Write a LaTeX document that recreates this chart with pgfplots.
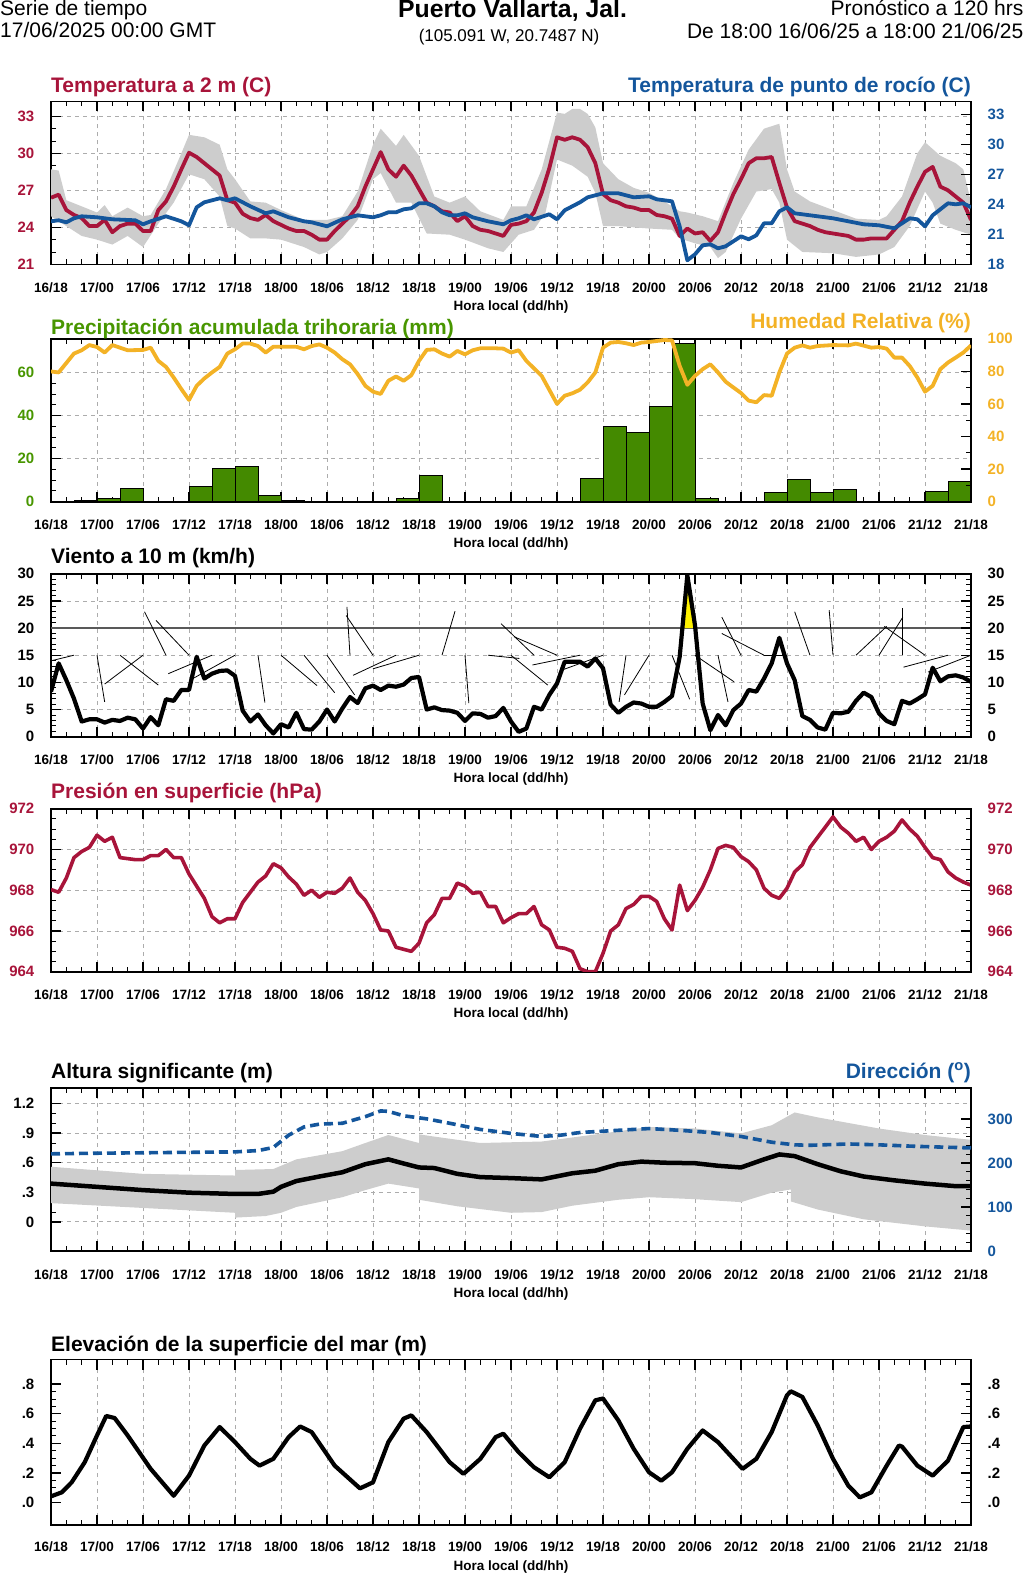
\documentclass[border=0pt]{standalone}
\usepackage{fontspec}
\setmainfont{Liberation Sans}
\usepackage{pgfplots}
\pgfplotsset{compat=1.18}
\usepgfplotslibrary{fillbetween}

\definecolor{tred}{RGB}{168,20,58}
\definecolor{tblue}{RGB}{20,86,156}
\definecolor{horange}{RGB}{243,178,38}
\definecolor{pgreen}{RGB}{68,138,0}
\definecolor{tgreen}{RGB}{72,150,0}
\definecolor{band}{RGB}{205,205,205}

\tikzset{ptitle/.style={inner sep=0pt, font=\bfseries\fontsize{21}{21}\selectfont}}

\pgfplotsset{
  ncl/.style={
    scale only axis, width=920pt, height=163pt, anchor=south west,
    xmin=0, xmax=120,
    xtick={0,6,...,120},
    xticklabels={16/18,17/00,17/06,17/12,17/18,18/00,18/06,18/12,18/18,19/00,19/06,19/12,19/18,20/00,20/06,20/12,20/18,21/00,21/06,21/12,21/18},
    minor x tick num=2,
    tick align=inside,
    major tick length=10pt, minor tick length=5pt,
    major tick style={line width=1.4pt, black},
    minor tick style={line width=0.9pt, black},
    axis line style={line width=1.6pt},
    xmajorgrids, ymajorgrids,
    major grid style={gray!65, line width=0.7pt, dash pattern=on 4pt off 4pt},
    ytick pos=left, xtick pos=both,
    /pgf/number format/assume math mode=true,
    yticklabel style={font=\bfseries\fontsize{15}{15}\selectfont, inner sep=0pt, anchor=east, xshift=-16.5pt},
    xticklabel style={font=\bfseries\fontsize{13.5}{13.5}\selectfont, inner sep=0pt, anchor=base, yshift=-28pt},
    xlabel={Hora local (dd/hh)},
    xlabel style={font=\bfseries\fontsize{13.5}{13.5}\selectfont, inner sep=0pt, at={(rel axis cs:0.5,0)}, anchor=base, yshift=-46pt},
    clip mode=individual,
  },
  nclr/.style={
    scale only axis, width=920pt, height=163pt, anchor=south west,
    xmin=0, xmax=120,
    axis x line=none, axis y line*=right,
    tick align=inside,
    major tick length=10pt, minor tick length=5pt,
    major tick style={line width=1.4pt, black},
    minor tick style={line width=0.9pt, black},
    axis line style={line width=1.6pt},
    /pgf/number format/assume math mode=true,
    yticklabel style={font=\bfseries\fontsize{15}{15}\selectfont, inner sep=0pt, anchor=west, xshift=16.5pt},
    clip mode=individual,
  },
}

\begin{document}
\begin{tikzpicture}

% ---------- cabecera
\node[anchor=base west, inner sep=0pt, font=\fontsize{21}{21}\selectfont] at (0pt,-15.5pt) {Serie de tiempo};
\node[anchor=base west, inner sep=0pt, font=\fontsize{21}{21}\selectfont] at (0pt,-38pt) {17/06/2025 00:00 GMT};
\node[anchor=base, inner sep=0pt, font=\bfseries\fontsize{24.8}{24.8}\selectfont] at (512.5pt,-18pt) {Puerto Vallarta, Jal.};
\node[anchor=base, inner sep=0pt, font=\fontsize{17}{17}\selectfont] at (509pt,-42pt) {(105.091 W, 20.7487 N)};
\node[anchor=base east, inner sep=0pt, font=\fontsize{21}{21}\selectfont] at (1023.5pt,-16pt) {Pronóstico a 120 hrs};
\node[anchor=base east, inner sep=0pt, font=\fontsize{21}{21}\selectfont] at (1023.5pt,-39pt) {De 18:00 16/06/25 a 18:00 21/06/25};

% ---------- 1: temperatura / punto de rocio
\begin{axis}[ncl, at={(51pt,-264.3pt)}, ymin=21, ymax=34.22, ytick={21,24,...,33}, minor y tick num=2,
  yticklabel style={text=tred}]
\addplot[name path=tu, draw=none] coordinates {
(0,28.7)(1,28.6)(2,26.2)(4,25.7)(6,25.2)(7,25.8)(8,24.9)(10,25.6)(12,24.9)(13,25.0)(15,27.1)(17,30.0)(18,31.5)(20,31.3)(22,30.7)(23,28.7)(24,27.9)(26,26.1)(28,26.0)(30,25.4)(33,24.6)(36,24.6)(38,24.9)(40,26.9)(42,30.7)(43,32.0)(45,30.6)(46,31.5)(48,29.8)(50,26.5)(52,26.0)(54,26.5)(56,25.3)(59,24.6)(60,25.7)(62,25.7)(64,28.7)(66,33.3)(67,33.2)(68,33.6)(69,33.6)(70,33.2)(71,32.1)(72,29.2)(74,27.9)(76,27.2)(78,26.8)(80,26.1)(82,25.3)(83,25.2)(85,24.9)(87,24.5)(89,27.6)(91,30.3)(93,32.0)(95,32.4)(96,28.7)(97,26.9)(99,26.1)(102,25.4)(105,24.7)(108,24.6)(109,24.9)(111,26.5)(113,30.0)(114,30.9)(116,29.8)(118,29.2)(119,28.7)(120,26.0)};
\addplot[name path=tl, draw=none] coordinates {
(0,24.9)(2,24.1)(4,23.3)(6,23.0)(8,22.6)(10,23.3)(12,22.4)(14,24.3)(16,26.0)(18,28.3)(20,27.9)(22,26.5)(23,24.1)(24,23.9)(26,23.1)(28,23.1)(30,23.0)(33,22.4)(35,21.8)(36,22.0)(38,23.1)(40,24.6)(42,27.9)(43,28.4)(45,26.0)(47,26.0)(49,23.5)(52,23.4)(54,23.0)(57,22.3)(59,22.0)(61,23.4)(63,23.8)(64.5,25.2)(66,29.5)(68,29.0)(70,28.1)(71,26.8)(72,24.1)(74,24.1)(78,23.9)(81,23.8)(82,23.1)(84,22.7)(86,22.4)(87,21.5)(88,22.0)(90,24.7)(92,26.9)(94,27.1)(95,26.0)(96,23.0)(98,22.0)(102,21.9)(105,21.6)(108,21.8)(110,22.4)(112,24.1)(114,26.9)(115,26.0)(116,24.3)(118,23.8)(120,23.4)};
\addplot[band, draw=none] fill between[of=tu and tl];
\addplot[tred, line width=3.8pt, line join=round] coordinates {
(0,26.4)(1,26.65)(2,25.4)(3,25.0)(4,24.75)(5,24.1)(6,24.1)(7,24.6)(8,23.6)(9,24.1)(10,24.3)(11,24.3)(12,23.7)(13,23.7)(14,25.4)(15,26.1)(16,27.3)(17,28.7)(18,30.05)(19,29.7)(20,29.2)(21,28.7)(22,28.2)(23,26.2)(24,26.0)(25,25.1)(26,24.75)(27,24.6)(28,25.0)(29,24.5)(30,24.2)(31,23.9)(32,23.7)(33,23.7)(34,23.4)(35,23.0)(36,23.0)(37,23.7)(38,24.3)(39,24.9)(40,25.7)(41,27.3)(42,28.7)(43,30.1)(44,28.7)(45,28.1)(46,29.0)(47,28.2)(48,27.1)(49,26.0)(50,25.7)(51,25.3)(52,25.2)(53,24.5)(54,24.9)(55,24.1)(56,23.8)(57,23.7)(58,23.5)(59,23.3)(60,24.2)(61,24.3)(62,24.5)(63,25.2)(64,26.8)(65,28.8)(66,31.3)(67,31.1)(68,31.3)(69,31.1)(70,30.5)(71,29.2)(72,26.7)(73,26.2)(74,26.0)(75,25.7)(76,25.6)(77,25.4)(78,25.4)(79,25.0)(80,24.9)(81,24.7)(82,23.3)(83,23.9)(84,23.5)(85,23.6)(86,22.9)(87,23.6)(88,25.2)(89,26.7)(90,27.9)(91,29.2)(92,29.6)(93,29.6)(94,29.7)(95,27.6)(96,25.6)(97,24.5)(98,24.3)(99,24.1)(100,23.8)(101,23.6)(102,23.5)(103,23.4)(104,23.3)(105,23.0)(106,23.0)(107,23.1)(108,23.1)(109,23.1)(110,23.8)(111,24.5)(112,26.0)(113,27.3)(114,28.5)(115,28.9)(116,27.3)(117,27.0)(118,26.5)(119,26.0)(120,24.6)};
\node[ptitle, anchor=base west, text=tred, yshift=9pt] at (rel axis cs:0,1) {Temperatura a 2 m (C)};
\node[ptitle, anchor=base east, text=tblue, yshift=9pt] at (rel axis cs:1,1) {Temperatura de punto de rocío (C)};
\end{axis}
\begin{axis}[nclr, at={(51pt,-264.3pt)}, ymin=18, ymax=34.3, ytick={18,21,...,33}, minor y tick num=2,
  yticklabel style={text=tblue}]
\addplot[tblue, line width=3.8pt, line join=round] coordinates {
(0,22.3)(1,22.4)(2,22.2)(3,22.6)(4,22.8)(6,22.7)(8,22.5)(11,22.4)(12,22.0)(13,22.3)(15,22.8)(17,22.3)(18,21.9)(19,23.7)(20,24.2)(22,24.6)(23,24.4)(24,24.6)(26,23.8)(28,23.1)(29,23.3)(31,22.7)(33,22.3)(34,22.2)(36,21.8)(38,22.5)(40,22.9)(42,22.7)(43,22.9)(44,23.2)(45,23.2)(46,23.5)(47,23.6)(48,24.1)(49,24.1)(50,23.8)(51,23.2)(52,22.9)(53,22.9)(54,23.1)(55,22.7)(57,22.3)(59,22.0)(60,22.4)(61,22.6)(62,22.9)(63,22.5)(65,23.0)(66,22.5)(67,23.4)(69,24.2)(70,24.7)(72,25.1)(74,25.1)(76,24.7)(78,24.8)(79,24.5)(81,24.3)(82,21.8)(83,18.4)(84,19.0)(85,19.9)(86,20.0)(87,19.6)(88,19.8)(90,20.8)(91,20.5)(92,20.9)(93,22.1)(94,22.1)(95,23.3)(96,23.7)(97,23.1)(99,22.9)(102,22.6)(104,22.3)(106,22.0)(108,21.9)(110,21.6)(111,22.1)(112,22.6)(113,22.5)(114,21.8)(115,22.9)(117,24.1)(118,24.0)(119,24.1)(120,23.7)};
\end{axis}

% ---------- 2: precipitacion / humedad
\begin{axis}[ncl, at={(51pt,-501.7pt)}, ymin=0, ymax=75.7, ytick={0,20,40,60}, minor y tick num=3,
  yticklabel style={text=tgreen}]
\addplot[ybar interval, fill=pgreen, draw=black, line width=0.8pt] coordinates {
(0,0)(3,0.5)(6,1.5)(9,6.3)(12,0)(15,0)(18,7.2)(21,15.5)(24,16.3)(27,2.9)(30,0.6)(33,0)(36,0)(39,0)(42,0)(45,1.5)(48,12.2)(51,0)(54,0)(57,0)(60,0)(63,0)(66,0)(69,10.8)(72,35.1)(75,32.0)(78,44.2)(81,73.5)(84,1.5)(87,0)(90,0)(93,4.3)(96,10.5)(99,4.2)(102,5.7)(105,0)(108,0)(111,0)(114,4.6)(117,9.5)(120,0)};
\node[ptitle, anchor=base west, text=tgreen, yshift=4.5pt] at (rel axis cs:0,1) {Precipitación acumulada trihoraria (mm)};
\node[ptitle, anchor=base east, text=horange, yshift=10pt] at (rel axis cs:1,1) {Humedad Relativa (\%)};
\end{axis}
\begin{axis}[nclr, at={(51pt,-501.7pt)}, ymin=0, ymax=100, ytick={0,20,...,100}, minor y tick num=1,
  yticklabel style={text=horange}]
\addplot[horange, line width=3.8pt, line join=round] coordinates {
(0,79.9)(1,79.3)(3,90.9)(4,92.9)(5,96.1)(6,94.9)(7,91.5)(8,96.1)(10,92.9)(12,93.1)(13,94.5)(14,86.4)(15,82.7)(16,76.2)(17,69.1)(18,62.4)(19,71.1)(20,75.6)(21,79.3)(22,82.7)(23,90.9)(24,93.5)(25,97.0)(26,97.0)(27,95.5)(28,91.5)(29,95.1)(31,95.1)(32,95.1)(33,93.5)(34,95.5)(35,96.5)(36,94.5)(37,91.5)(38,87.4)(39,84.3)(40,78.3)(41,71.1)(42,67.5)(43,66.1)(44,74.2)(45,76.8)(46,74.2)(47,77.6)(48,86.4)(49,93.1)(50,93.5)(51,90.9)(52,89.0)(53,92.5)(54,90.4)(55,92.9)(56,94.1)(58,94.1)(59,93.9)(60,91.5)(61,92.9)(62,86.4)(64,77.2)(66,60.0)(67,65.0)(68,66.5)(69,68.7)(70,73.2)(71,79.3)(72,94.5)(73,97.6)(74,98.0)(75,97.2)(76,96.1)(77,97.6)(78,98.0)(79,98.6)(80,99.2)(81,99.0)(82,83.3)(83,71.7)(84,77.2)(85,81.3)(86,84.3)(87,79.3)(88,73.6)(89,70.1)(90,66.7)(91,62.0)(92,61.0)(93,65.4)(94,65.0)(95,79.3)(96,90.9)(97,94.5)(98,95.9)(99,94.5)(100,95.5)(102,96.1)(104,95.9)(105,97.0)(107,94.5)(108,94.9)(109,93.9)(110,88.4)(111,88.4)(112,83.3)(113,76.2)(114,67.5)(115,71.1)(116,81.3)(117,85.4)(118,88.4)(119,91.5)(120,95.9)};
\end{axis}

% ---------- 3: viento
\begin{axis}[ncl, at={(51pt,-736.7pt)}, ymin=0, ymax=30, ytick={0,5,...,30}, minor y tick num=4]
\addplot[gray!70!black, line width=1.4pt] coordinates {(0,20)(120,20)};
\addplot[quiver={u=\thisrow{u}, v=\thisrow{v}}, black, line width=0.8pt] table {
x y u v
3 15 -2.9 -1.0
6 15 1.0 -8.6
9 15 5.0 -5.5
12 15 -5.0 -5.3
15 15 -2.8 8.0
18 15 -4.3 6.4
21 15 -5.7 -3.4
24 15 -5.5 -4.3
27 15 0.9 -8.7
30 15 4.7 -5.6
33 15 4.0 -6.9
36 15 3.6 -7.3
39 15 -0.4 8.9
42 15 -3.5 7.3
45 15 -5.6 -3.7
48 15 -6.0 -2.5
51 15 1.7 8.1
54 15 0.5 -8.8
57 15 4.1 -0.6
60 15 4.8 -5.5
63 15 -4.3 5.8
66 15 -5.6 3.4
69 15 -6.2 -1.8
72 15 -5.5 -2.8
75 15 -0.9 -8.6
78 15 -3.2 -7.3
81 15 2.3 -8.1
84 15 5.1 -4.9
87 15 1.3 -8.6
90 15 -2.5 7.0
93 15 -5.5 4.0
96 15 -3.0 0
99 15 -2.0 8.0
102 15 -0.5 8.3
105 15 4.0 5.3
108 15 3.1 7.0
111 15 0 8.6
114 15 -5.3 5.3
117 15 -5.8 -2.2
120 15 -5.6 -3.1
};
\addplot[fill=yellow, draw=none] coordinates {(82.35,20)(83,29.7)(84,20.5)(84.03,20)} -- cycle;
\addplot[black, line width=4.2pt, line join=round] coordinates {
(0,8.3)(1,13.5)(2,10.4)(3,7.0)(4,2.8)(5,3.2)(6,3.2)(7,2.6)(8,3.1)(9,2.9)(10,3.5)(11,3.2)(12,1.5)(13,3.6)(14,2.1)(15,6.9)(16,6.6)(17,8.6)(18,8.6)(19,14.7)(20,10.7)(21,11.6)(22,12.1)(23,12.2)(24,11.2)(25,4.8)(26,2.8)(27,4.1)(28,2.1)(29,0.6)(30,2.3)(31,1.7)(32,4.4)(33,1.4)(34,1.3)(35,2.8)(36,5.0)(37,2.8)(38,5.2)(39,7.3)(40,6.2)(41,8.9)(42,9.4)(43,8.6)(44,9.4)(45,9.2)(46,9.6)(47,10.8)(48,11.0)(49,5.0)(50,5.4)(51,4.9)(52,4.8)(53,4.4)(54,2.9)(55,4.3)(56,4.2)(57,3.5)(58,3.8)(59,5.3)(60,2.8)(61,0.9)(62,1.5)(63,5.5)(64,5.0)(65,7.7)(66,9.8)(67,13.8)(68,13.8)(69,13.8)(70,12.9)(71,14.4)(72,12.6)(73,5.9)(74,4.4)(75,5.5)(76,6.3)(77,6.1)(78,5.5)(79,5.5)(80,6.4)(81,7.5)(82,14.7)(83,29.7)(84,20.5)(85,6.1)(86,1.2)(87,4.0)(88,2.1)(89,4.9)(90,6.1)(91,8.6)(92,8.3)(93,10.7)(94,13.5)(95,18.2)(96,13.5)(97,10.4)(98,3.8)(99,3.1)(100,1.7)(101,1.3)(102,4.4)(103,4.3)(104,4.6)(105,6.6)(106,8.1)(107,7.3)(108,4.3)(109,2.9)(110,2.3)(111,6.6)(112,6.1)(113,6.9)(114,7.8)(115,12.7)(116,10.2)(117,11.1)(118,11.3)(119,10.9)(120,10.1)};
\node[ptitle, anchor=base west, yshift=10pt] at (rel axis cs:0,1) {Viento a 10 m (km/h)};
\end{axis}
\begin{axis}[nclr, at={(51pt,-736.7pt)}, ymin=0, ymax=30, ytick={0,5,...,30}, minor y tick num=4]
\end{axis}

% ---------- 4: presion
\begin{axis}[ncl, at={(51pt,-971.7pt)}, ymin=964, ymax=972, ytick={964,966,...,972}, minor y tick num=3,
  yticklabel style={text=tred}]
\addplot[tred, line width=3.6pt, line join=round] coordinates {
(0,968.03)(1,967.9)(2,968.6)(3,969.6)(4,969.9)(5,970.1)(6,970.7)(7,970.4)(8,970.6)(9,969.6)(10,969.55)(11,969.5)(12,969.5)(13,969.7)(14,969.7)(15,970.0)(16,969.6)(17,969.6)(18,968.8)(19,968.2)(20,967.6)(21,966.7)(22,966.4)(23,966.6)(24,966.6)(25,967.4)(26,967.9)(27,968.4)(28,968.7)(29,969.3)(30,969.1)(31,968.65)(32,968.3)(33,967.75)(34,968.0)(35,967.65)(36,967.9)(37,967.85)(38,968.1)(39,968.6)(40,967.9)(41,967.5)(42,966.85)(43,966.05)(44,966.0)(45,965.2)(46,965.1)(47,965.0)(48,965.4)(49,966.4)(50,966.8)(51,967.6)(52,967.6)(53,968.35)(54,968.2)(55,967.85)(56,967.9)(57,967.2)(58,967.2)(59,966.4)(60,966.65)(61,966.85)(62,966.85)(63,967.2)(64,966.3)(65,966.05)(66,965.2)(67,965.15)(68,965.0)(69,964.15)(70,964.0)(71,964.0)(72,964.9)(73,966.0)(74,966.3)(75,967.1)(76,967.3)(77,967.7)(78,967.7)(79,967.45)(80,966.6)(81,966.05)(82,968.25)(83,967.0)(84,967.5)(85,968.15)(86,969.0)(87,970.05)(88,970.2)(89,970.1)(90,969.65)(91,969.4)(92,969.0)(93,968.1)(94,967.75)(95,967.6)(96,968.1)(97,968.9)(98,969.25)(99,970.1)(100,970.6)(101,971.1)(102,971.6)(103,971.1)(104,970.8)(105,970.4)(106,970.6)(107,970.0)(108,970.4)(109,970.6)(110,970.9)(111,971.45)(112,971.0)(113,970.65)(114,970.1)(115,969.6)(116,969.5)(117,968.9)(118,968.6)(119,968.4)(120,968.25)};
\node[ptitle, anchor=base west, text=tred, yshift=10pt] at (rel axis cs:0,1) {Presión en superficie (hPa)};
\end{axis}
\begin{axis}[nclr, at={(51pt,-971.7pt)}, ymin=964, ymax=972, ytick={964,966,...,972}, minor y tick num=3,
  yticklabel style={text=tred}]
\end{axis}

% ---------- 5: altura significante / direccion
\begin{axis}[ncl, at={(51pt,-1251pt)}, ymin=-0.296, ymax=1.358, ytick={0,0.3,0.6,0.9,1.2}, yticklabels={0,.3,.6,.9,1.2}, minor y tick num=2]
\addplot[name path=hu, draw=none] coordinates {
(0,0.559)(12,0.487)(24,0.47)(24.01,0.526)(29,0.536)(32,0.634)(38,0.717)(41,0.8)(44,0.881)(48,0.8)(48.01,0.888)(50,0.865)(56,0.8)(64,0.815)(72,0.897)(78,0.963)(84,0.947)(90,0.897)(94,0.98)(97,1.11)(100,1.06)(108,0.947)(114,0.881)(120,0.832)};
\addplot[name path=hl, draw=none] coordinates {
(0,0.19)(12,0.141)(24,0.092)(24.01,0.043)(28,0.059)(30,0.092)(32,0.151)(38,0.25)(41,0.322)(44,0.388)(48,0.339)(48.01,0.224)(53,0.158)(60,0.092)(64,0.099)(68,0.164)(74,0.224)(78,0.25)(84,0.23)(90,0.2)(94,0.296)(96.5,0.329)(96.51,0.207)(100,0.125)(106,0.026)(114,-0.046)(120,-0.089)};
\addplot[band, draw=none] fill between[of=hu and hl];
\addplot[black, line width=4.5pt, line join=round] coordinates {
(0,0.388)(6,0.355)(12,0.322)(18,0.296)(24,0.283)(27,0.283)(29,0.306)(30,0.355)(32,0.414)(35,0.46)(38,0.503)(41,0.585)(44,0.634)(46,0.592)(48,0.552)(50,0.546)(53,0.487)(56,0.454)(60,0.444)(64,0.431)(68,0.493)(71,0.519)(74,0.585)(77,0.611)(80,0.60)(84,0.595)(87,0.569)(90,0.552)(93,0.634)(95,0.684)(97,0.667)(100,0.585)(103,0.513)(106,0.46)(110,0.421)(114,0.388)(118,0.362)(120,0.362)};
\node[ptitle, anchor=base west, yshift=10pt] at (rel axis cs:0,1) {Altura significante (m)};
\node[ptitle, anchor=base east, text=tblue, yshift=10pt] at (rel axis cs:1,1) {Dirección (\textsuperscript{o})};
\end{axis}
\begin{axis}[nclr, at={(51pt,-1251pt)}, ymin=0, ymax=370, ytick={0,100,200,300}, minor y tick num=4,
  yticklabel style={text=tblue}]
\addplot[tblue, line width=3.6pt, dash pattern=on 9pt off 5pt] coordinates {
(0,220.6)(6,222)(12,223)(18,224)(24,225)(27,228)(29,235)(31,263)(33,281.6)(35,288)(38,290)(41,305)(43,318)(44,317)(46,307)(49,300)(52,290)(56,276)(60,267)(64,260)(66.5,263)(69,269)(74,274)(78,278)(82,274)(86,269)(90,260)(94,247)(97,241)(99,240)(104,243)(108,241)(113,237.5)(120,234)};
\end{axis}

% ---------- 6: elevacion del mar
\begin{axis}[ncl, at={(51pt,-1525pt)}, height=165.5pt, ymin=-0.153, ymax=0.967, ytick={0,0.2,...,0.8}, yticklabels={.0,.2,.4,.6,.8}, minor y tick num=3, ymajorgrids=false,
  xticklabel style={yshift=2pt}, xlabel style={yshift=1pt}]
\addplot[black, line width=4.2pt, line join=round] coordinates {
(0,0.041)(1.4,0.068)(2.7,0.136)(4.4,0.272)(6,0.453)(7.2,0.585)(8.3,0.571)(10,0.453)(13,0.227)(16,0.045)(18,0.181)(20,0.385)(22,0.51)(24,0.408)(26,0.295)(27.2,0.249)(29,0.295)(31,0.442)(32.5,0.514)(34,0.476)(37,0.249)(40.3,0.095)(42,0.136)(44,0.408)(46,0.567)(47,0.589)(49,0.476)(52,0.272)(53.8,0.193)(56,0.295)(58,0.442)(59,0.465)(61,0.340)(63,0.238)(65,0.17)(67,0.272)(69,0.499)(71,0.691)(72,0.703)(74,0.555)(76,0.363)(78,0.204)(79.6,0.147)(81,0.204)(83,0.363)(85,0.487)(87,0.408)(89,0.295)(90.2,0.227)(92,0.295)(94,0.476)(96,0.725)(96.5,0.752)(98,0.714)(100,0.521)(102,0.295)(104,0.113)(105.5,0.034)(107,0.068)(109,0.249)(110.6,0.385)(111,0.378)(113,0.249)(115,0.181)(117,0.283)(119,0.51)(120,0.514)};
\node[ptitle, anchor=base west, yshift=8pt] at (rel axis cs:0,1) {Elevación de la superficie del mar (m)};
\end{axis}
\begin{axis}[nclr, at={(51pt,-1525pt)}, height=165.5pt, ymin=-0.153, ymax=0.967, ytick={0,0.2,...,0.8}, yticklabels={.0,.2,.4,.6,.8}, minor y tick num=3]
\end{axis}

\pgfresetboundingbox
\useasboundingbox (0pt,0pt) rectangle (1024pt,-1576pt);
\end{tikzpicture}
\end{document}
